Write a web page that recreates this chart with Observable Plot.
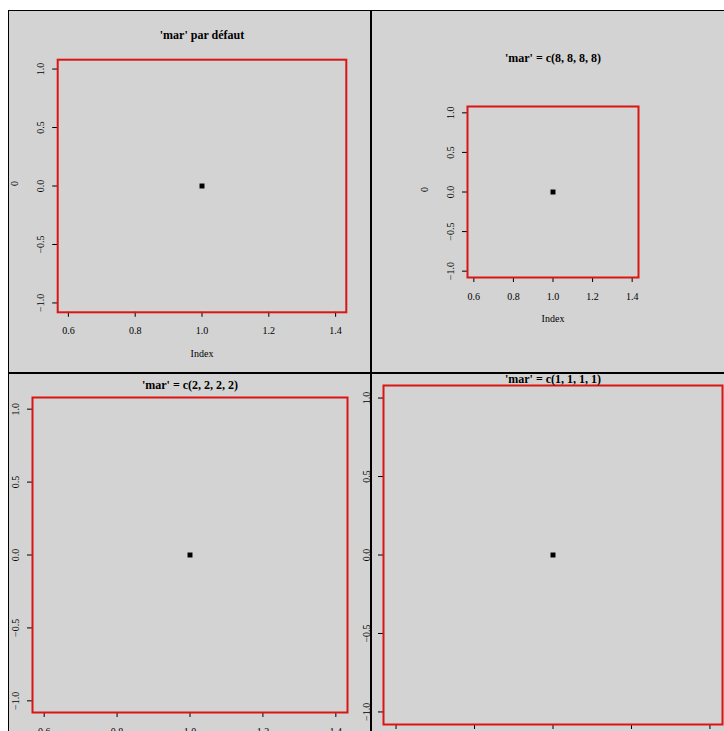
<!DOCTYPE html>
<html><head><meta charset="utf-8">
<script src="https://cdn.jsdelivr.net/npm/d3@7"></script>
<script src="https://cdn.jsdelivr.net/npm/@observablehq/plot@0.6"></script>
<style>
html,body{margin:0;padding:0;overflow:hidden;background:#fff;width:724px;height:731px;}
#device{position:absolute;left:8px;top:10px;width:726px;height:726px;background:#d3d3d3;}
.fig{position:absolute;width:363px;height:363px;box-shadow:inset 0 0 0 1px #000;}
.fig svg{position:absolute;left:0;top:0;}
</style></head><body><div id="device"></div>
<script>
// Panel titles (one per figure, row by row)
const titles = ["'mar' par défaut", "'mar' = c(8, 8, 8, 8)", "'mar' = c(2, 2, 2, 2)", "'mar' = c(1, 1, 1, 1)"];
// R par("mar") per panel, in lines: bottom, left, top, right
const mars = [[5.1, 4.1, 4.1, 2.1], [8, 8, 8, 8], [2, 2, 2, 2], [1, 1, 1, 1]];
// plot(0): index and value
const index = [1];
const values = [0];
// axis ticks
const xTicks = [0.6, 0.8, 1.0, 1.2, 1.4];
const yTicks = [-1.0, -0.5, 0.0, 0.5, 1.0];
// R's usr extent for plot(0)
const xDomain = [0.568, 1.432];
const yDomain = [-1.08, 1.08];
const xLabel = "Index";
const yLabel = "0";

const points = index.map((x, i) => ({x, y: values[i]}));
const LINE = 12;      // pixels per margin line
const FIG = 363;      // figure size
const fmt = d3.format(".1f");
const device = document.getElementById("device");

titles.forEach((title, i) => {
  const [mb, ml, mt, mr] = mars[i];
  const marks = [
    Plot.frame({stroke: "#dc1414", strokeWidth: 2}),
    Plot.dot(points, {x: "x", y: "y", symbol: "square", fill: "black", stroke: "none", r: 2.8}),
    Plot.text([title], {text: d => d, frameAnchor: "top", dy: -mt * LINE / 2, lineAnchor: "middle", fontSize: 12, fontWeight: "bold"})
  ];
  if (mb > 3) marks.push(Plot.text([xLabel], {text: d => d, frameAnchor: "bottom", dy: 41.5, lineAnchor: "middle"}));
  if (ml > 3) marks.push(Plot.text([yLabel], {text: d => d, frameAnchor: "left", dx: -42.5, rotate: -90, lineAnchor: "middle"}));
  const chart = Plot.plot({
    width: FIG, height: FIG,
    marginTop: mt * LINE, marginRight: mr * LINE, marginBottom: mb * LINE, marginLeft: ml * LINE,
    x: {domain: xDomain, ticks: xTicks, tickSize: 5, tickPadding: 10, tickFormat: fmt, label: null},
    y: {domain: yDomain, ticks: yTicks, tickSize: 5, tickPadding: 9, tickRotate: -90, tickFormat: fmt, label: null},
    style: {background: "transparent", overflow: "visible", fontFamily: "'Liberation Serif', 'DejaVu Serif', serif", fontSize: "10px", color: "black"},
    marks
  });
  const fig = document.createElement("div");
  fig.className = "fig";
  fig.style.left = (i % 2) * FIG + "px";
  fig.style.top = Math.floor(i / 2) * FIG + "px";
  fig.appendChild(chart);
  device.appendChild(fig);
});
</script>
</body></html>
